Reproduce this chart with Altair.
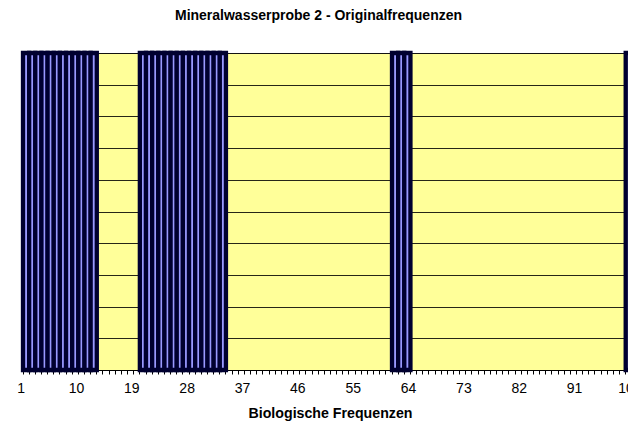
import altair as alt
import pandas as pd

# category axis: biological frequencies 1..100
categories = list(range(1, 101))
# frequencies that are present (full-height bars)
active = [1, 2, 3, 4, 5, 6, 7, 8, 9, 10, 11, 12,
          20, 21, 22, 23, 24, 25, 26, 27, 28, 29, 30, 31, 32, 33,
          61, 62, 63,
          99, 100]
values = [10, 10, 10, 10, 10, 10, 10, 10, 10, 10, 10, 10,
          10, 10, 10, 10, 10, 10, 10, 10, 10, 10, 10, 10, 10, 10,
          10, 10, 10,
          10, 10]
tick_labels = [1, 10, 19, 28, 37, 46, 55, 64, 73, 82, 91, 100]
grid_values = [0, 1, 2, 3, 4, 5, 6, 7, 8, 9, 10]

df = pd.DataFrame({"Frequenz": active, "Wert": values})

label_expr = "indexof([" + ",".join(str(v) for v in tick_labels) + "], datum.value) >= 0 ? datum.label : ''"

chart = alt.Chart(df).mark_bar(
    fill="#9999FF", stroke="#000030", strokeWidth=4.3
).encode(
    x=alt.X(
        "Frequenz:O",
        scale=alt.Scale(domain=categories, paddingInner=0, paddingOuter=0),
        axis=alt.Axis(
            title="Biologische Frequenzen",
            bandPosition=0,
            labelExpr=label_expr,
            labelOffset=-5,
            labelAngle=0,
            labelOverlap=False,
            labelFont="Liberation Sans",
            labelFontSize=14,
            labelColor="#000000",
            labelPadding=7,
            tickSize=4,
            tickColor="#000000",
            domainColor="#000000",
            titleFont="Liberation Sans",
            titleFontSize=14.2,
            titleFontWeight="bold",
            titleColor="#000000",
            titlePadding=11,
            titleX=307,
        ),
    ),
    y=alt.Y(
        "Wert:Q",
        scale=alt.Scale(domain=[0, 10]),
        axis=alt.Axis(
            title=None,
            labels=False,
            ticks=False,
            values=grid_values,
            grid=True,
            gridColor="#000000",
            gridOpacity=0.85,
            domainColor="#000000",
        ),
    ),
).properties(
    width=615,
    height=317,
    autosize=alt.AutoSizeParams(type="none"),
    padding={"left": 15, "top": 45, "right": -10, "bottom": 55},
    title=alt.Title(
        "Mineralwasserprobe 2 - Originalfrequenzen",
        font="Liberation Sans",
        fontSize=14,
        fontWeight="bold",
        color="#000000",
        dx=-12,
        offset=27.5,
    ),
).configure(
    background="#FFFFFF",
    view=alt.ViewConfig(fill="#FFFF99", stroke="#808080", strokeWidth=1),
)

chart.save("out.html", embed_options={"renderer": "svg", "actions": False})
